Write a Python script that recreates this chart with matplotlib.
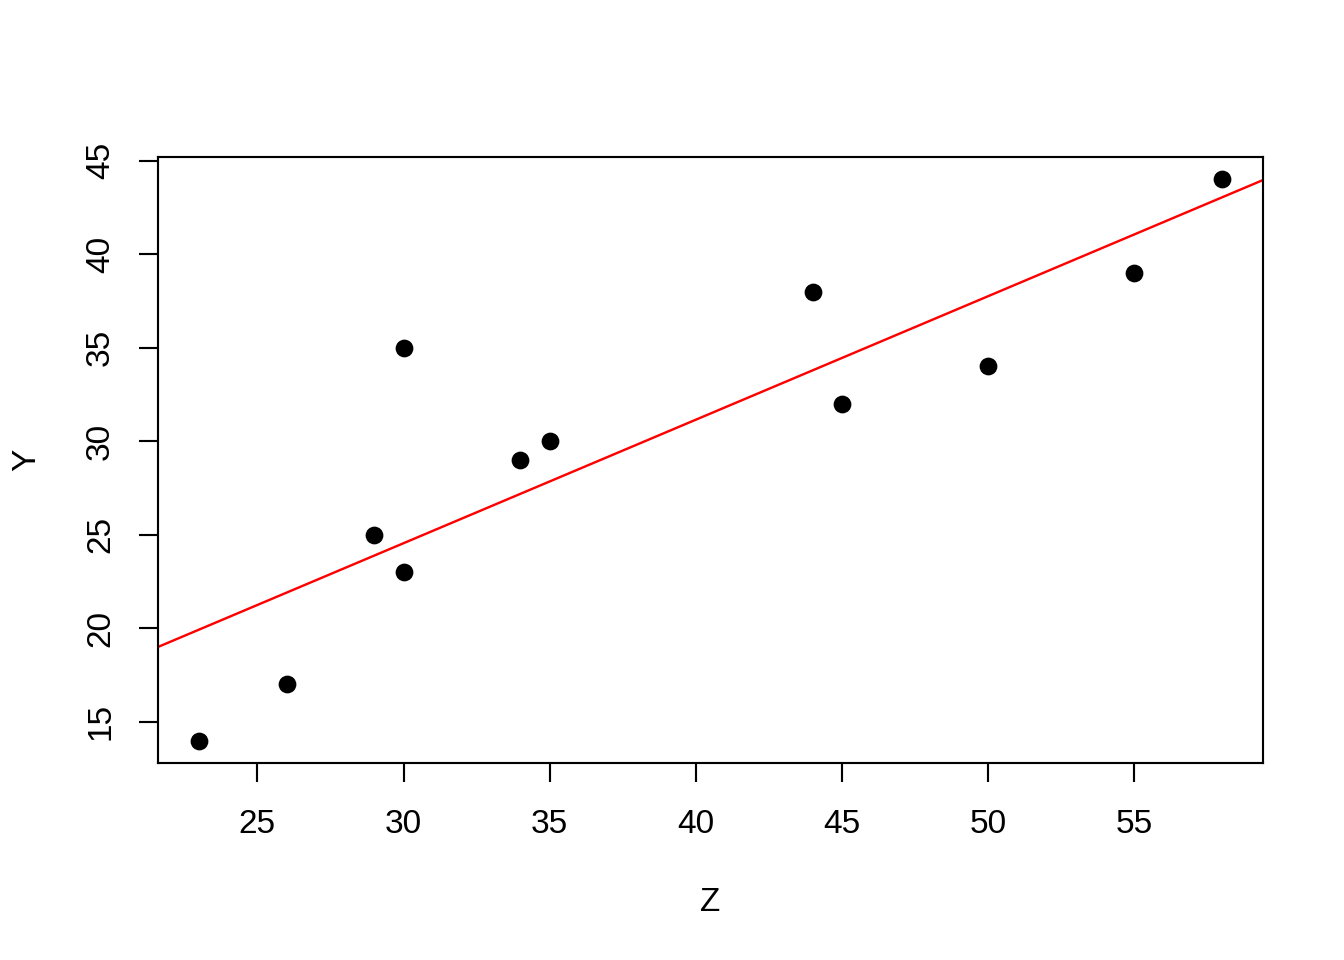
import numpy as np
import matplotlib
matplotlib.use("Agg")
import matplotlib.pyplot as plt

plt.rcParams['font.family'] = ['Liberation Sans', 'DejaVu Sans']

z = [23, 26, 29, 30, 30, 34, 35, 44, 45, 50, 55, 58]
y = [14, 17, 25, 35, 23, 29, 30, 38, 32, 34, 39, 44]
xticks = [25, 30, 35, 40, 45, 50, 55]
yticks = [15, 20, 25, 30, 35, 40, 45]

fig = plt.figure(figsize=(7, 5), dpi=192)
ax = fig.add_axes([158 / 1344, 1 - 763 / 960, (1263 - 158) / 1344, (763 - 157) / 960])

ax.scatter(z, y, s=32, color='black', zorder=3)

# abline(lm(Y ~ Z))
slope, intercept = np.polyfit(z, y, 1)
ax.axline((0, intercept), slope=slope, color='red', lw=0.9)

ax.set_xlim(21.6, 59.4)
ax.set_ylim(12.8, 45.2)
ax.set_xticks(xticks)
ax.set_yticks(yticks)
ax.set_yticklabels([str(t) for t in yticks], rotation=90, va='center')
ax.tick_params(direction='out', length=7.2, width=0.8, labelsize=12.5)
ax.tick_params(axis='x', pad=10)
ax.tick_params(axis='y', pad=8.5)

for s in ax.spines.values():
    s.set_linewidth(0.8)

ax.set_xlabel('Z', fontsize=12.5, labelpad=17.5)
ax.set_ylabel('Y', fontsize=12.5, labelpad=16)

fig.savefig('out.png', dpi=192)
